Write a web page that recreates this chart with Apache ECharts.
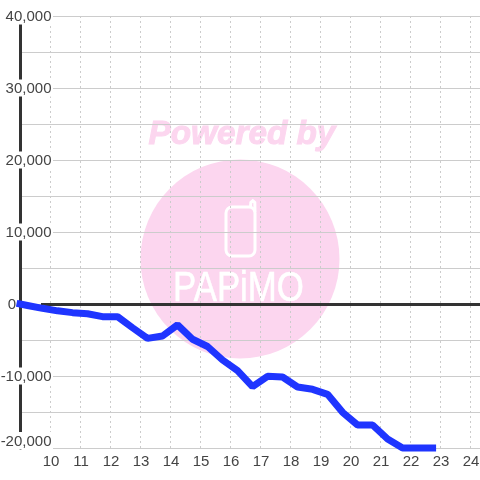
<!DOCTYPE html>
<html>
<head>
<meta charset="utf-8">
<style>html,body{margin:0;padding:0;background:#fff}#c{width:480px;height:480px}</style>
<script src="https://cdn.jsdelivr.net/npm/echarts@6/dist/echarts.min.js"></script>
</head>
<body>
<div id="c"></div>
<script>
const hours = [9, 9.25, 9.75, 10.25, 10.75, 11.25, 11.75, 12.25, 12.75, 13.25, 13.75, 14.25, 14.75, 15.25, 15.75, 16.25, 16.75, 17.25, 17.75, 18.25, 18.75, 19.25, 19.75, 20.25, 20.75, 21.25, 21.75, 22.25, 22.75];
const values = [0, -200, -600, -950, -1200, -1350, -1760, -1760, -3300, -4770, -4440, -2900, -4900, -5900, -7780, -9260, -11480, -10040, -10140, -11530, -11850, -12550, -15050, -16800, -16800, -18750, -20000, -20000, -20000];
const points = hours.map((h, i) => [h, values[i]]);
const grey = '#444';
const pink = '#fcd6ef';
const chart = echarts.init(document.getElementById('c'), null, {renderer: 'canvas'});
chart.setOption({
  animation: false,
  backgroundColor: '#fff',
  textStyle: {fontFamily: 'Liberation Sans'},
  grid: {left: 20, right: 0, top: 16, bottom: 32, outerBoundsMode: 'none'},
  xAxis: {
    type: 'value', min: 9, max: 24.33, interval: 1,
    axisLine: {show: false}, axisTick: {show: false},
    splitLine: {show: true, lineStyle: {color: '#ccc', width: 1, type: [2, 3]}},
    axisLabel: {color: grey, fontSize: 15, margin: 6, padding: [0, 0, 0, 2], showMinLabel: false, showMaxLabel: false,
      formatter: v => String(Math.round(v))}
  },
  yAxis: {
    type: 'value', min: -20000, max: 40000, interval: 10000,
    axisLine: {show: true, onZero: false, lineStyle: {color: '#333', width: 3}},
    axisTick: {show: false},
    minorTick: {show: false, splitNumber: 2},
    splitLine: {show: true, lineStyle: {color: '#ccc', width: 1}},
    minorSplitLine: {show: true, lineStyle: {color: '#ccc', width: 1}},
    axisLabel: {
      inside: true, margin: 33, align: 'right', color: grey, fontSize: 15,
      verticalAlignMinLabel: 'bottom',
      formatter: v => v === 0 ? '{z|0}{s|}' : '{n|' + v.toLocaleString('en-US') + '}',
      rich: {
        n: {backgroundColor: '#fff', color: grey, fontSize: 15, lineHeight: 15, padding: [2, 1.5, 0, 1]},
        z: {color: grey, fontSize: 15, lineHeight: 15, padding: [2, 0, 0, 0]},
        s: {width: 37, lineHeight: 15}
      }
    }
  },
  graphic: {elements: [
    {type: 'circle', z: -10, shape: {cx: 240, cy: 259, r: 99.5}, style: {fill: pink}},
    {type: 'text', z: -10, x: 148.5, y: 118, style: {text: 'Powered by', fill: pink, stroke: pink, lineWidth: 1, font: 'italic bold 33.3px "Liberation Sans"'}},
    {type: 'rect', z: -9, shape: {x: 226, y: 207, width: 29, height: 49, r: 6}, style: {fill: 'none', stroke: '#fff', lineWidth: 3}},
    {type: 'polyline', z: -9, shape: {points: [[250.5, 207], [250.8, 202.5], [252.8, 200.8], [254.8, 202.5], [255, 212]]}, style: {fill: 'none', stroke: '#fff', lineWidth: 3}},
    {type: 'text', z: -9, x: 173, y: 268, scaleX: 0.81, style: {text: 'PAPiMO', fill: '#fff', stroke: '#fff', lineWidth: 0.6, font: '43px "Liberation Sans"'}}
  ]},
  series: [
    {type: 'line', z: 3, data: [], silent: true,
      markLine: {silent: true, symbol: 'none', animation: false, label: {show: false}, emphasis: {disabled: true},
        lineStyle: {color: '#333', width: 3, type: 'solid'},
        data: [[{coord: [9.7, 0]}, {coord: [24.33, 0]}]]}},
    {type: 'line', z: 5, data: points, showSymbol: false, symbol: 'none', clip: false,
      lineStyle: {color: '#1f35ff', width: 7, cap: 'square', join: 'bevel'}}
  ]
});
</script>
</body>
</html>
